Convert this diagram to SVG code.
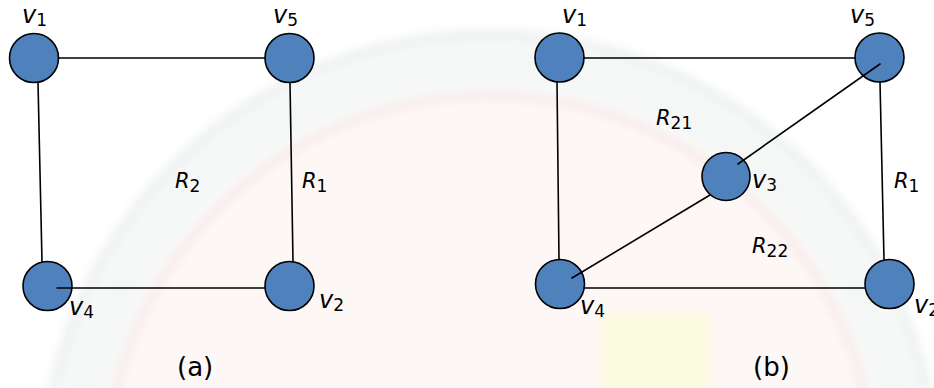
<svg xmlns="http://www.w3.org/2000/svg" width="934" height="388" viewBox="0 0 934 388">
  <defs>
    <filter id="soft" x="-10%" y="-10%" width="120%" height="120%">
      <feGaussianBlur stdDeviation="5"/>
    </filter>
  </defs>
  <style>
    .node { fill: #4f81bd; stroke: #000; stroke-width: 1.6; }
    .edge { stroke: #000; stroke-width: 1.6; fill: none; stroke-linecap: round; }
    .lbl { font-family: "DejaVu Sans", Verdana, sans-serif; font-size: 24px; font-style: italic; fill: #000; }
    .reg { font-family: "DejaVu Sans", Verdana, sans-serif; font-size: 21px; font-style: italic; fill: #000; }
    .sub { font-size: 17px; font-style: normal; }
    .cap { font-family: "DejaVu Sans", Verdana, sans-serif; font-size: 26px; fill: #000; }
  </style>

  <rect width="934" height="388" fill="#ffffff"/>

  <!-- faint seal in the background -->
  <g id="seal" filter="url(#soft)" opacity="0.55">
    <circle cx="490" cy="480" r="380" fill="#fcf1ee"/>
    <rect x="600" y="312" width="110" height="80" fill="#f8f8c8"/>
    <circle cx="490" cy="480" r="445" fill="none" stroke="#e2e7e8" stroke-width="12"/>
    <circle cx="490" cy="480" r="385" fill="none" stroke="#efdcda" stroke-width="10"/>
    <circle cx="490" cy="480" r="415" fill="none" stroke="#eef1f1" stroke-width="44"/>
  </g>

  <!-- graph (a) -->
  <g id="a-v1"><circle class="node" cx="34" cy="58" r="24.5"/><text class="lbl" x="22" y="23">v<tspan class="sub" dy="3">1</tspan></text></g>
  <g id="a-v5"><circle class="node" cx="289.5" cy="58" r="24.5"/><text class="lbl" x="273" y="23">v<tspan class="sub" dy="3">5</tspan></text></g>
  <g id="a-v4"><circle class="node" cx="47.5" cy="286" r="24.5"/><text class="lbl" x="69" y="315">v<tspan class="sub" dy="3">4</tspan></text></g>
  <g id="a-v2"><circle class="node" cx="289.5" cy="286" r="24.5"/><text class="lbl" x="319" y="308">v<tspan class="sub" dy="3">2</tspan></text></g>

  <!-- graph (b) -->
  <g id="b-v1"><circle class="node" cx="559.5" cy="57.5" r="24.5"/><text class="lbl" x="562" y="23">v<tspan class="sub" dy="3">1</tspan></text></g>
  <g id="b-v5"><circle class="node" cx="879.5" cy="57.5" r="24.5"/><text class="lbl" x="850" y="23">v<tspan class="sub" dy="3">5</tspan></text></g>
  <g id="b-v3"><circle class="node" cx="726" cy="176.5" r="24"/><text class="lbl" x="752" y="188">v<tspan class="sub" dy="3">3</tspan></text></g>
  <g id="b-v4"><circle class="node" cx="560" cy="284" r="24.5"/><text class="lbl" x="580" y="314">v<tspan class="sub" dy="3">4</tspan></text></g>
  <g id="b-v2"><circle class="node" cx="889.5" cy="284" r="24.5"/><text class="lbl" x="914" y="313">v<tspan class="sub" dy="3">2</tspan></text></g>

  <!-- connectors -->
  <g id="edges">
    <line class="edge" x1="58.5" y1="58" x2="265" y2="58"/>
    <line class="edge" x1="38" y1="82.5" x2="42" y2="261.5"/>
    <line class="edge" x1="290" y1="82.5" x2="293" y2="261.5"/>
    <line class="edge" x1="57" y1="288" x2="265" y2="288"/>

    <line class="edge" x1="584" y1="58" x2="855" y2="58"/>
    <line class="edge" x1="557" y1="82" x2="559" y2="259.5"/>
    <line class="edge" x1="880" y1="82" x2="884" y2="259.5"/>
    <line class="edge" x1="880" y1="64" x2="738" y2="164"/>
    <line class="edge" x1="710" y1="195" x2="572" y2="278"/>
    <line class="edge" x1="584" y1="288" x2="865" y2="288"/>
  </g>

  <!-- region labels -->
  <g id="regions">
    <text class="reg" x="175" y="188">R<tspan class="sub" dy="4">2</tspan></text>
    <text class="reg" x="302" y="188">R<tspan class="sub" dy="4">1</tspan></text>
    <text class="reg" x="656" y="125">R<tspan class="sub" dy="4">21</tspan></text>
    <text class="reg" x="894" y="188">R<tspan class="sub" dy="4">1</tspan></text>
    <text class="reg" x="752" y="253">R<tspan class="sub" dy="4">22</tspan></text>
  </g>

  <!-- captions -->
  <text class="cap" x="177" y="376">(a)</text>
  <text class="cap" x="753" y="376">(b)</text>
</svg>
